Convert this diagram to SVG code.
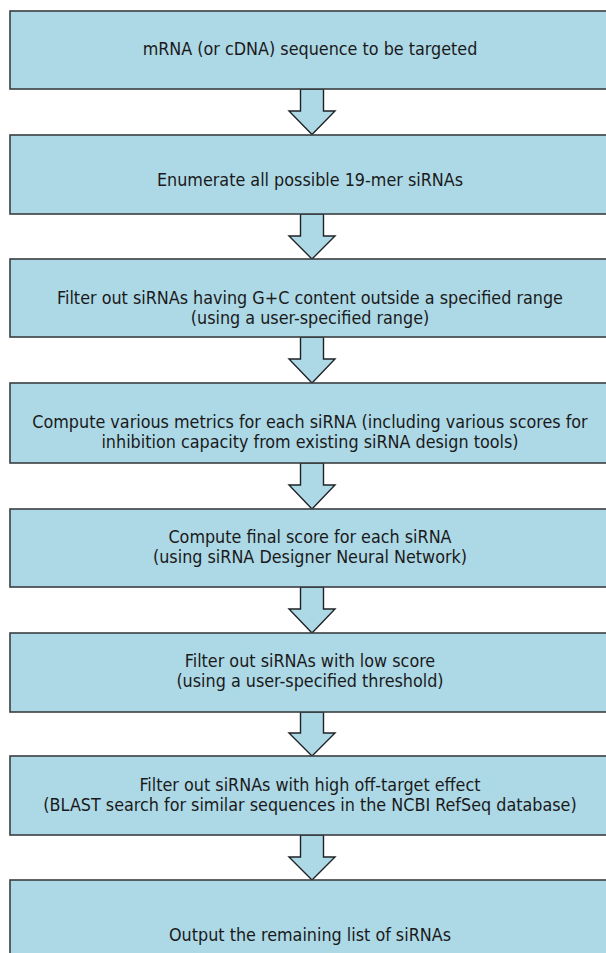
<svg xmlns="http://www.w3.org/2000/svg" width="606" height="953" viewBox="0 0 606 953">
<style>
.box{fill:#add8e6;stroke:#3a3f42;stroke-width:1.6}
.arr{fill:#add8e6;stroke:#1e2224;stroke-width:1.4;stroke-linejoin:miter}
text{font-family:"DejaVu Sans Condensed","DejaVu Sans","Liberation Sans",sans-serif;font-stretch:condensed;font-size:17.8px;fill:#1a1a1a;text-anchor:middle}
</style>
<rect width="606" height="953" fill="#ffffff"/>
<g id="connectors">
<path class="arr" d="M300.5,89 V111 H289 L312,134.5 L335,111 H323.5 V89 Z"/>
<path class="arr" d="M300.5,214 V236 H289 L312,259 L335,236 H323.5 V214 Z"/>
<path class="arr" d="M300.5,337 V359 H289 L312,383 L335,359 H323.5 V337 Z"/>
<path class="arr" d="M300.5,463 V485 H289 L312,509 L335,485 H323.5 V463 Z"/>
<path class="arr" d="M300.5,587 V609 H289 L312,633 L335,609 H323.5 V587 Z"/>
<path class="arr" d="M300.5,712 V733 H289 L312,756 L335,733 H323.5 V712 Z"/>
<path class="arr" d="M300.5,835 V857 H289 L312,880 L335,857 H323.5 V835 Z"/>
</g>
<g id="n1"><rect class="box" x="10" y="11" width="606" height="78"/><text x="310" y="55">mRNA (or cDNA) sequence to be targeted</text></g>
<g id="n2"><rect class="box" x="10" y="135" width="606" height="79"/><text x="310" y="186">Enumerate all possible 19-mer siRNAs</text></g>
<g id="n3"><rect class="box" x="10" y="259" width="606" height="78"/><text x="310" y="304">Filter out siRNAs having G+C content outside a specified range</text><text x="310" y="324">(using a user-specified range)</text></g>
<g id="n4"><rect class="box" x="10" y="383" width="606" height="80"/><text x="310" y="428">Compute various metrics for each siRNA (including various scores for</text><text x="310" y="448">inhibition capacity from existing siRNA design tools)</text></g>
<g id="n5"><rect class="box" x="10" y="509" width="606" height="78"/><text x="310" y="543">Compute final score for each siRNA</text><text x="310" y="563">(using siRNA Designer Neural Network)</text></g>
<g id="n6"><rect class="box" x="10" y="633" width="606" height="79"/><text x="310" y="667">Filter out siRNAs with low score</text><text x="310" y="687">(using a user-specified threshold)</text></g>
<g id="n7"><rect class="box" x="10" y="756" width="606" height="79"/><text x="310" y="791">Filter out siRNAs with high off-target effect</text><text x="310" y="811">(BLAST search for similar sequences in the NCBI RefSeq database)</text></g>
<g id="n8"><rect class="box" x="10" y="880" width="606" height="90"/><text x="310" y="941">Output the remaining list of siRNAs</text></g>
</svg>
